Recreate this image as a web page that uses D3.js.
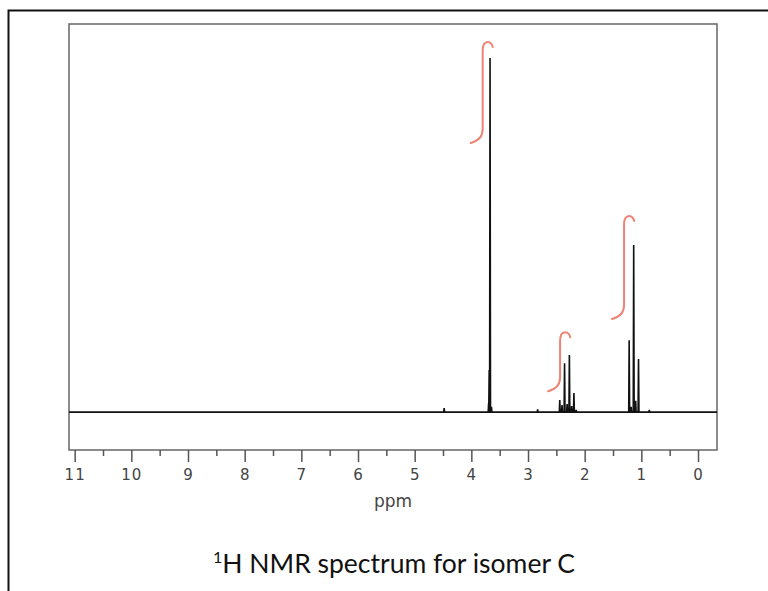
<!DOCTYPE html>
<html>
<head>
<meta charset="utf-8">
<script src="https://cdn.jsdelivr.net/npm/d3@7"></script>
<style>
  body { margin: 0; background: #fff; }
  svg { display: block; }
</style>
</head>
<body>
<div id="chart"></div>
<script>
/* 1H NMR spectrum, isomer C */

// peak list: position (ppm) and height (singlet = 100)
const peakPpm = [4.48, 3.695, 3.685, 3.67, 3.645, 2.83,
                 2.44, 2.40, 2.355, 2.31, 2.27, 2.23, 2.19, 2.15,
                 1.215, 1.18, 1.135, 1.10, 1.05, 0.86];
const peakHeight = [1.1, 2.5, 11.9, 100, 1.5, 0.8,
                    3.4, 2.0, 13.8, 2.3, 16.1, 1.7, 5.4, 0.6,
                    20.3, 1.5, 47.2, 3.2, 15.0, 0.6];

// integration traces: ppm of the stroke, bottom and top heights
const intPpm = [3.80, 2.434, 1.305];
const intLow = [77.7, 7.6, 28.0];
const intHigh = [104.2, 22.3, 55.1];

const majorTicks = [11, 10, 9, 8, 7, 6, 5, 4, 3, 2, 1, 0];
const minorTicks = [10.5, 9.5, 8.5, 7.5, 6.5, 5.5, 4.5, 3.5, 2.5, 1.5, 0.5];

const width = 768, height = 591,
    margin = ({top: 24, right: 51, bottom: 141, left: 69});

const svg = d3.select("#chart")
    .append("svg")
    .attr("width", width)
    .attr("height", height);

let x = d3.scaleLinear()
    .domain([11.1, -0.335])                      // ppm runs right to left
    .range([margin.left, width - margin.right]);

let y = d3.scaleLinear()
    .domain([-10.7, 109.6])
    .range([height - margin.bottom, margin.top]);

// outer frame (top and left edges only show)
svg.append("path")
    .attr("d", `M8.5,${height} V10.5 H${width}`)
    .attr("fill", "none")
    .attr("stroke", "#111")
    .attr("stroke-width", 2);

// plot box
svg.append("rect")
    .attr("x", margin.left)
    .attr("y", margin.top)
    .attr("width", width - margin.left - margin.right)
    .attr("height", height - margin.top - margin.bottom)
    .attr("fill", "none")
    .attr("stroke", "#666")
    .attr("stroke-width", 1.5);

// axis: major ticks with labels
const xAxis = g => g
    .attr("transform", `translate(0,${height - margin.bottom})`)
    .attr("font-family", "DejaVu Sans")
    .attr("font-size", 15)
    .call(d3.axisBottom(x).tickValues(majorTicks).tickSize(12).tickPadding(7)
        .tickFormat(d3.format("d")))
    .attr("font-family", "DejaVu Sans")
    .attr("font-size", 15)
    .call(g => g.select(".domain").remove())
    .call(g => g.selectAll(".tick line").attr("stroke", "#555").attr("stroke-width", 1.5))
    .call(g => g.selectAll(".tick text")
        .attr("fill", "#444")
        .attr("letter-spacing", 1));

const xMinor = g => g
    .attr("transform", `translate(0,${height - margin.bottom})`)
    .call(d3.axisBottom(x).tickValues(minorTicks).tickSize(6).tickFormat(""))
    .call(g => g.select(".domain").remove())
    .call(g => g.selectAll(".tick line").attr("stroke", "#555").attr("stroke-width", 1.5));

svg.append("g").call(xAxis);
svg.append("g").call(xMinor);

svg.append("text")
    .attr("x", (margin.left + width - margin.right) / 2)
    .attr("y", 507)
    .attr("text-anchor", "middle")
    .attr("font-family", "DejaVu Sans")
    .attr("font-size", 17)
    .attr("fill", "#444")
    .text("ppm");

// spectrum trace: baseline with narrow peaks
const peaks = peakPpm.map((p, i) => ({ppm: p, h: peakHeight[i]}))
    .sort((a, b) => b.ppm - a.ppm);
const w = 0.008;
let d = `M${x(x.domain()[0])},${y(0)}`;
for (let p of peaks) {
    d += `L${x(p.ppm + w)},${y(0)}L${x(p.ppm)},${y(p.h)}L${x(p.ppm - w)},${y(0)}`;
}
d += `L${x(x.domain()[1])},${y(0)}`;

svg.append("path")
    .attr("d", d)
    .attr("fill", "none")
    .attr("stroke", "#111")
    .attr("stroke-width", 1.6)
    .attr("stroke-linejoin", "miter");

// hand-drawn integral curves
const integral = (px, lo, hi) => {
    const vx = x(px), yb = y(lo), yt = y(hi);
    return `M${vx - 12},${yb + 6} C${vx - 4},${yb + 4} ${vx},${yb} ${vx},${yb - 8}` +
        ` L${vx},${yt + 8} C${vx},${yt + 1} ${vx + 2},${yt - 1} ${vx + 5},${yt - 1}` +
        ` C${vx + 8},${yt - 1} ${vx + 10},${yt + 2} ${vx + 10},${yt + 4}`;
};

svg.selectAll(".integral")
    .data(intPpm)
    .join("path")
    .attr("class", "integral")
    .attr("d", (p, i) => integral(p, intLow[i], intHigh[i]))
    .attr("fill", "none")
    .attr("stroke", "#ee8273")
    .attr("stroke-width", 2)
    .attr("stroke-linecap", "round");

// caption
const cap = svg.append("text")
    .attr("x", 394)
    .attr("y", 573)
    .attr("text-anchor", "middle")
    .attr("font-family", "Lato")
    .attr("font-size", 26.5)
    .attr("fill", "#111");
cap.append("tspan").attr("font-size", 16).attr("dy", -10).text("1");
cap.append("tspan").attr("dy", 10).text("H NMR spectrum for isomer C");
</script>
</body>
</html>
